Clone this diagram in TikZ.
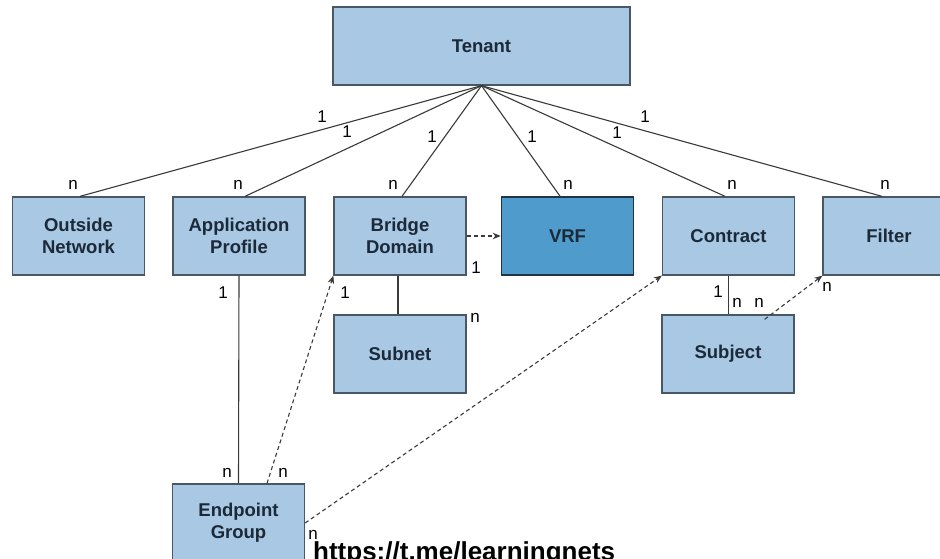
\documentclass[tikz,border=0pt]{standalone}
\usepackage{fontspec}
\setmainfont{Liberation Sans}
\usetikzlibrary{arrows.meta}
\definecolor{boxfill}{HTML}{A8C8E3}
\definecolor{boxline}{HTML}{4A5866}
\definecolor{vrffill}{HTML}{4F9BCB}
\definecolor{vrfline}{HTML}{1F3546}
\definecolor{boxtext}{HTML}{1C2938}
\definecolor{linkcol}{HTML}{3A3A3A}
\tikzset{
  entity/.style={draw=boxline, fill=boxfill, line width=1.3pt,
    minimum width=132pt, minimum height=78pt, inner sep=0pt,
    align=center, text=boxtext,
    font=\fontsize{18.5}{22}\selectfont\bfseries},
  darkentity/.style={entity, fill=vrffill, draw=vrfline, line width=1.6pt},
  link/.style={draw=linkcol, line width=1.1pt},
  ref/.style={draw=linkcol, line width=1.1pt, dash pattern=on 4pt off 3pt,
    -{Stealth[length=8pt,width=6.5pt]}},
  card/.style={inner sep=0pt, text=black, font=\fontsize{17}{17}\selectfont}
}
\begin{document}
\begin{tikzpicture}[x=1pt,y=-1pt]
\useasboundingbox (0,0) rectangle (940,559);
\fill[white] (0,0) rectangle (940,559);
\clip (0,0) rectangle (940,559);

% entities
\node[entity, minimum width=297pt] (tenant) at (481.5,46) {Tenant};
\node[entity] (outside) at (78.5,236) {Outside\\Network};
\node[entity] (app) at (239,236) {Application\\Profile};
\node[entity] (bd) at (400,236) {Bridge\\Domain};
\node[darkentity] (vrf) at (567.5,236) {VRF};
\node[entity] (contract) at (728.5,236) {Contract};
\node[entity] (filter) at (889,236) {Filter};
\node[entity] (subnet) at (400,354) {Subnet};
\node[entity] (subject) at (728,354) {Subject};
\node[entity] (epg) at (238.5,523) {Endpoint\\Group};

% containment links from the tenant
\draw[link] (tenant.south) -- ([xshift=1.5pt]outside.north);
\draw[link] (tenant.south) -- ([xshift=6pt]app.north);
\draw[link] (tenant.south) -- ([xshift=2pt]bd.north);
\draw[link] (tenant.south) -- ([xshift=-7.5pt]vrf.north);
\draw[link] (tenant.south) -- ([xshift=-3.5pt]contract.north);
\draw[link] (tenant.south) -- ([xshift=-7pt]filter.north);

% other containment links
\draw[link] ([xshift=-2pt]bd.south) -- ([xshift=-2pt]subnet.north);
\draw[link] (app.south) -- (epg.north);
\draw[link] (contract.south) -- ([xshift=0.5pt]subject.north);

% references
\draw[ref] (bd.east) -- (vrf.west);
\draw[ref] ([xshift=28.5pt]epg.north) -- (bd.south west);
\draw[ref] ([yshift=0pt]epg.east) -- (contract.south west);
\draw[ref] ([xshift=-30pt,yshift=-5pt]subject.north east) -- (filter.south west);

% cardinalities
\node[card] (c1) at (322,117) {1};
\node[card] (c2) at (347,132) {1};
\node[card] (c3) at (432,137) {1};
\node[card] (c4) at (532,137) {1};
\node[card] (c5) at (617,133) {1};
\node[card] (c6) at (645,117) {1};
\node[card] (c7) at (73,185) {n};
\node[card] (c8) at (238,185) {n};
\node[card] (c9) at (393,185) {n};
\node[card] (c10) at (568,185) {n};
\node[card] (c11) at (732,185) {n};
\node[card] (c12) at (885,185) {n};
\node[card] (c13) at (476,268) {1};
\node[card] (c14) at (475,318) {n};
\node[card] (c15) at (223,293) {1};
\node[card] (c16) at (227,473) {n};
\node[card] (c17) at (345,293) {1};
\node[card] (c18) at (283,473) {n};
\node[card] (c19) at (313,535) {n};
\node[card] (c20) at (718,292) {1};
\node[card] (c21) at (737,303) {n};
\node[card] (c22) at (759,303) {n};
\node[card] (c23) at (827,287) {n};

% channel link
\node[anchor=base west, inner sep=0pt, text=black,
  font=\fontsize{26}{26}\selectfont\bfseries] (url) at (313,560)
  {https://t.me/learningnets};
\end{tikzpicture}
\end{document}
